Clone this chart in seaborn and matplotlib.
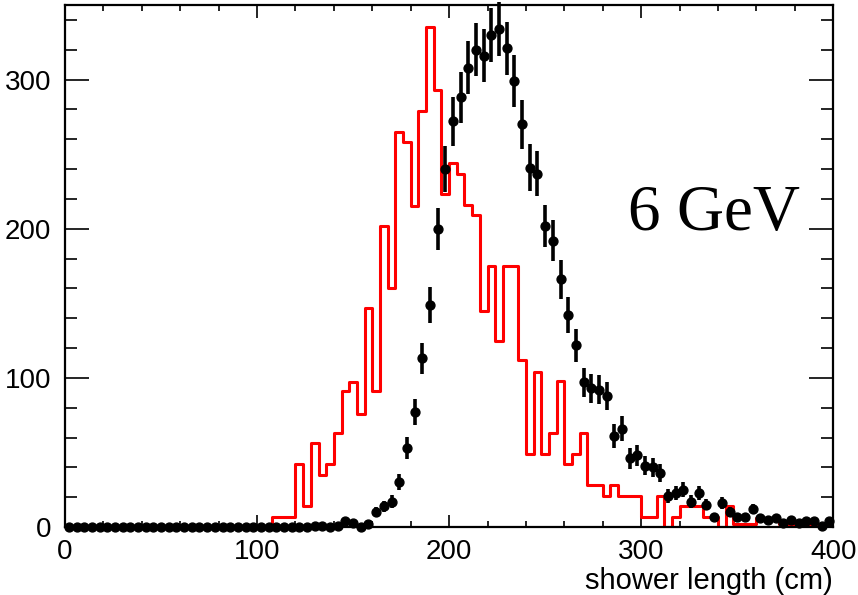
import numpy as np
import pandas as pd
import matplotlib
matplotlib.use("Agg")
import matplotlib.pyplot as plt
from matplotlib.ticker import MultipleLocator
import seaborn as sns

# binning: 100 bins of 4 cm between 0 and 400
bin_edges = list(range(0, 404, 4))
bin_centers = [e + 2 for e in bin_edges[:-1]]

# red histogram (simulation), one value per bin
sim_counts = [0] * 27 + [
    7, 7, 7, 42, 14, 56, 35, 42, 63, 91,
    97, 76, 147, 91, 202, 160, 265, 258, 215, 279,
    335, 293, 223, 244, 237, 216, 209, 145, 175, 125,
    175, 175, 112, 49, 104, 49, 63, 98, 42, 49,
    63, 28, 28, 21, 28, 21, 21, 21, 7, 7,
    21, 0, 7, 14, 14, 14, 7, 7, 0, 14,
    2, 2, 2, 6, 6, 6, 2, 2, 2, 2,
    2, 2, 2,
]

# black points (data), one value per bin
data_counts = [0] * 32 + [
    1, 1, 0, 1, 4, 3, 0, 2, 10, 14,
    17, 30, 53, 77, 113, 149, 200, 240, 272, 288,
    308, 320, 316, 330, 334, 321, 299, 270, 241, 237,
    202, 192, 166, 142, 122, 97, 93, 92, 88, 61,
    66, 46, 48, 41, 40, 36, 21, 23, 25, 17,
    23, 15, 7, 16, 10, 7, 7, 12, 6, 5,
    6, 3, 5, 3, 4, 4, 1, 4,
]

energy_label = "6 GeV"
x_title = "shower length (cm)"

df = pd.DataFrame({"length": bin_centers, "sim": sim_counts, "data": data_counts})

sns.set_style("ticks")
plt.rcParams["font.family"] = ["Liberation Sans", "DejaVu Sans"]
plt.rcParams["text.color"] = "black"
plt.rcParams["axes.labelcolor"] = "black"

fig = plt.figure(figsize=(8.58, 5.95), dpi=100)
ax = fig.add_axes([0.0758, 0.1143, 0.8953, 0.8773])

# simulation as a red step histogram
sns.histplot(data=df, x="length", weights="sim", bins=bin_edges, element="step",
             fill=False, color="red", linewidth=2.2, ax=ax, zorder=2)

# data as black points with poisson error bars
ax.errorbar(df["length"], df["data"], yerr=np.sqrt(df["data"]), fmt="o", color="black",
            markersize=6.4, elinewidth=2.6, capsize=0, zorder=3, clip_on=False)

ax.text(293, 199, energy_label, family=["Liberation Serif", "DejaVu Serif"],
        fontsize=47, ha="left", va="baseline", color="black")

ax.set_xlim(0, 400)
ax.set_ylim(0, 350)
ax.xaxis.set_major_locator(MultipleLocator(100))
ax.xaxis.set_minor_locator(MultipleLocator(20))
ax.yaxis.set_major_locator(MultipleLocator(100))
ax.yaxis.set_minor_locator(MultipleLocator(20))

ax.tick_params(axis="both", which="both", direction="in", top=True, right=True,
               colors="black", width=1.2, labelsize=20)
ax.tick_params(axis="x", which="major", length=9, pad=9)
ax.tick_params(axis="x", which="minor", length=4.5)
ax.tick_params(axis="y", which="major", length=17, pad=10)
ax.tick_params(axis="y", which="minor", length=8.5)

for side in ax.spines.values():
    side.set_linewidth(1.6)
    side.set_color("black")

ax.set_xlabel(x_title, fontsize=21, loc="right", labelpad=1, color="black")
ax.set_ylabel("")

plt.savefig("out.png", dpi=100)
